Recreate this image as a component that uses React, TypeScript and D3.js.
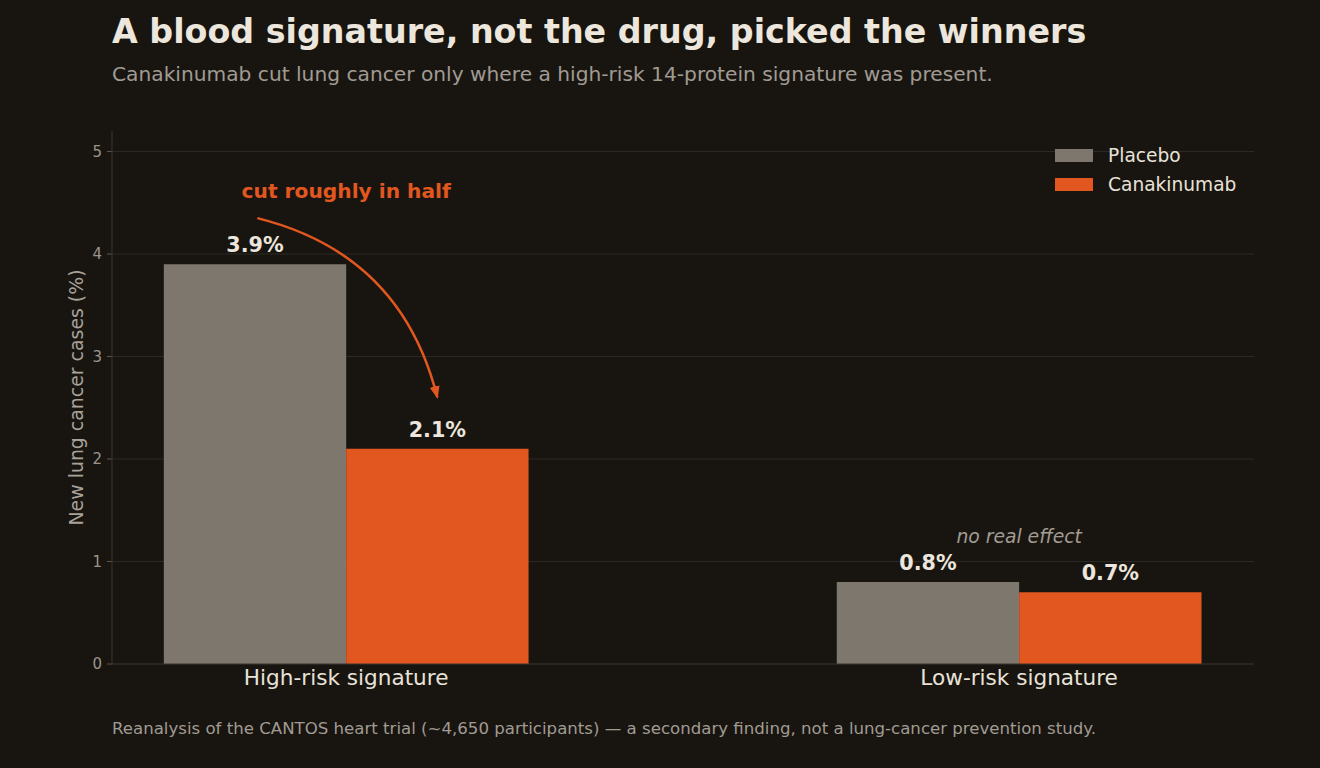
import React from 'react';
import * as d3 from 'd3';

const categories = ['High-risk signature', 'Low-risk signature'];
const seriesNames = ['Placebo', 'Canakinumab'];
const placebo = [3.9, 0.8];
const canakinumab = [2.1, 0.7];
const yTicks = [0, 1, 2, 3, 4, 5];

const W = 1320;
const H = 768;
const margin = { left: 112, right: 66, top: 131, bottom: 104 };
const barW = 0.271;
const colors = ['#7e776e', '#e1571f'];
const bg = '#181511';
const font = 'DejaVu Sans';

const App: React.FC = () => {
  const x = d3.scaleLinear().domain([-0.348, 1.349]).range([margin.left, W - margin.right]);
  const y = d3.scaleLinear().domain([0, 5.2]).range([H - margin.bottom, margin.top]);
  const series = [placebo, canakinumab];

  // curved arrow, matplotlib arc3 style
  const p0 = [x(-0.132), y(4.35)];
  const p2 = [x(barW / 2), y(2.6)];
  const rad = 0.3;
  const mx = (p0[0] + p2[0]) / 2;
  const my = (p0[1] + p2[1]) / 2;
  const dx = p2[0] - p0[0];
  const dy = p2[1] - p0[1];
  const cx = mx + rad * dy;
  const cy = my - rad * dx;
  const path = d3.path();
  path.moveTo(p0[0], p0[1]);
  path.quadraticCurveTo(cx, cy, p2[0], p2[1]);

  return (
    <svg width={W} height={H} style={{ position: 'absolute', left: 0, top: 0, display: 'block' }} fontFamily={font}>
      <defs>
        <marker id="ah" viewBox="0 0 10 10" refX="9" refY="5" markerWidth="5" markerHeight="5" orient="auto" markerUnits="strokeWidth">
          <path d="M0,1 L10,5 L0,9 z" fill={colors[1]} />
        </marker>
      </defs>
      <rect width={W} height={H} fill={bg} />

      <text x={112} y={43} fontSize={33.3} fontWeight="bold" fill="#ece6dc">A blood signature, not the drug, picked the winners</text>
      <text x={112} y={81} fontSize={20.2} fill="#a19b92">Canakinumab cut lung cancer only where a high-risk 14-protein signature was present.</text>

      {/* grid */}
      {yTicks.map(t => (
        <g key={t}>
          {t > 0 && <line x1={x.range()[0]} x2={x.range()[1]} y1={y(t)} y2={y(t)} stroke="#2c2824" strokeWidth={1} />}
          <line x1={margin.left - 5} x2={margin.left} y1={y(t)} y2={y(t)} stroke="#5a544d" />
          <text x={margin.left - 10} y={y(t)} dy="0.35em" textAnchor="end" fontSize={15} fill="#9a948b">{t}</text>
        </g>
      ))}

      {/* bars */}
      {series.map((vals, si) => vals.map((v, ci) => {
        const x0 = x(ci + (si === 0 ? -barW : 0));
        return <rect key={`${si}-${ci}`} x={x0} y={y(v)} width={x(ci + barW) - x(ci)} height={y(0) - y(v)} fill={colors[si]} />;
      }))}

      {/* axes spines */}
      <line x1={margin.left} x2={margin.left} y1={margin.top} y2={y(0)} stroke="#3c3732" />
      <line x1={margin.left} x2={x.range()[1]} y1={y(0)} y2={y(0)} stroke="#3c3732" />

      {/* value labels */}
      {series.map((vals, si) => vals.map((v, ci) => (
        <text key={`l${si}-${ci}`} x={x(ci + (si === 0 ? -barW / 2 : barW / 2))} y={y(v) - 12} textAnchor="middle" fontSize={20.7} fontWeight="bold" fill="#ece6dc">{v.toFixed(1)}%</text>
      )))}

      {/* category labels */}
      {categories.map((c, i) => (
        <text key={c} x={x(i)} y={685} textAnchor="middle" fontSize={21.6} fill="#e8e2d8">{c}</text>
      ))}

      <text transform={`translate(83,${(margin.top + y(0)) / 2}) rotate(-90)`} textAnchor="middle" fontSize={18.9} fill="#a8a299">New lung cancer cases (%)</text>

      {/* annotations */}
      <path d={path.toString()} fill="none" stroke={colors[1]} strokeWidth={2.5} markerEnd="url(#ah)" />
      <text x={x(0)} y={y(4.55)} textAnchor="middle" fontSize={20.2} fontWeight="bold" fill={colors[1]}>cut roughly in half</text>
      <text x={x(1)} y={y(1.18)} textAnchor="middle" fontSize={18.75} fontStyle="italic" fill="#a19b92">no real effect</text>

      {/* legend */}
      {seriesNames.map((s, i) => (
        <g key={s} transform={`translate(1055,${149 + i * 29})`}>
          <rect width={38} height={13} fill={colors[i]} />
          <text x={53} y={6.5} dy="0.35em" fontSize={18.6} fill="#e8e2d8">{s}</text>
        </g>
      ))}

      <text x={112} y={734} fontSize={16.6} fill="#a19b92">Reanalysis of the CANTOS heart trial (~4,650 participants) — a secondary finding, not a lung-cancer prevention study.</text>
    </svg>
  );
};

export default App;
